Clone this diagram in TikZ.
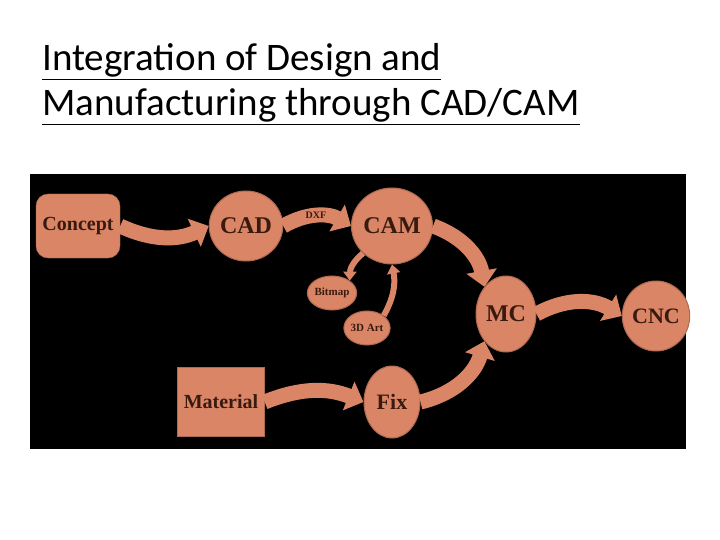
\documentclass[tikz,border=0pt]{standalone}
\usepackage{fontspec}
\setmainfont{Liberation Serif}
\newfontfamily\titlefont{Carlito}
\usetikzlibrary{arrows.meta,shapes.geometric}
\definecolor{salmon}{HTML}{D98566}
\definecolor{ink}{HTML}{3A1A0E}
\tikzset{
  blob/.style={ellipse,fill=salmon,draw=salmon!80!black,line width=1pt,text=ink,inner sep=0pt,font=\bfseries},
  band/.style={salmon,line width=15pt,-{Triangle[width=30pt,length=16pt]}},
  thin band/.style={salmon,line width=6pt,-{Triangle[width=13pt,length=9pt]}}
}
\begin{document}
\begin{tikzpicture}[x=1pt,y=-1pt]
\useasboundingbox (0,0) rectangle (720,540);
\fill[white] (0,0) rectangle (720,540);
\node[anchor=west,align=left,inner sep=0pt,font=\titlefont\fontsize{39}{45}\selectfont] (title) at (42,84)
  {\underline{Integration of Design and}\\\underline{Manufacturing through CAD/CAM}};
\fill[black] (30,174) rectangle (686,449);
\node[fill=salmon,draw=salmon!80!black,rounded corners=12pt,minimum width=84pt,minimum height=64pt,text=ink,font=\bfseries\fontsize{20}{22}\selectfont,inner sep=1pt] (concept) at (78,226) {Concept};
\node[blob,minimum width=60pt,minimum height=70pt,font=\bfseries\fontsize{24}{26}\selectfont] (cad) at (246,226) {CAD};
\node[blob,minimum width=58pt,minimum height=76pt,font=\bfseries\fontsize{24}{26}\selectfont] (cam) at (392,226) {CAM};
\node[blob,minimum width=46pt,minimum height=34pt,font=\bfseries\fontsize{11}{12}\selectfont] (bitmap) at (332,293) {Bitmap};
\node[blob,minimum width=46pt,minimum height=34pt,font=\bfseries\fontsize{11}{12}\selectfont] (art) at (367,328) {3D Art};
\node[blob,minimum width=60pt,minimum height=76pt,font=\bfseries\fontsize{24}{26}\selectfont] (mc) at (506,314) {MC};
\node[blob,minimum width=56pt,minimum height=70pt,font=\bfseries\fontsize{22}{24}\selectfont] (cnc) at (656,316) {CNC};
\node[fill=salmon,draw=salmon!80!black,minimum width=87pt,minimum height=69pt,text=ink,font=\bfseries\fontsize{20}{22}\selectfont,inner sep=1pt] (material) at (221,402) {Material};
\node[blob,minimum width=56pt,minimum height=72pt,font=\bfseries\fontsize{22}{24}\selectfont] (fix) at (392,402) {Fix};
\draw[band] (concept.east) to[bend right=25] (cad.west);
\draw[band] (cad.east) to[bend left=30] (cam.west);
\node[text=ink,font=\bfseries\fontsize{10}{11}\selectfont] (dxf) at (316,215) {DXF};
\draw[band] (cam.east) to[bend left=30] (mc.north west);
\draw[band] (mc.east) to[bend left=30] (cnc.west);
\draw[band] (material.east) to[bend left=22] (fix.west);
\draw[band] (fix.east) to[bend right=30] (mc.south west);
\draw[thin band] (cam.south west) to[bend right=25] (bitmap.north east);
\draw[thin band] (art.north east) to[bend right=20] (cam.south);
\end{tikzpicture}
\end{document}
